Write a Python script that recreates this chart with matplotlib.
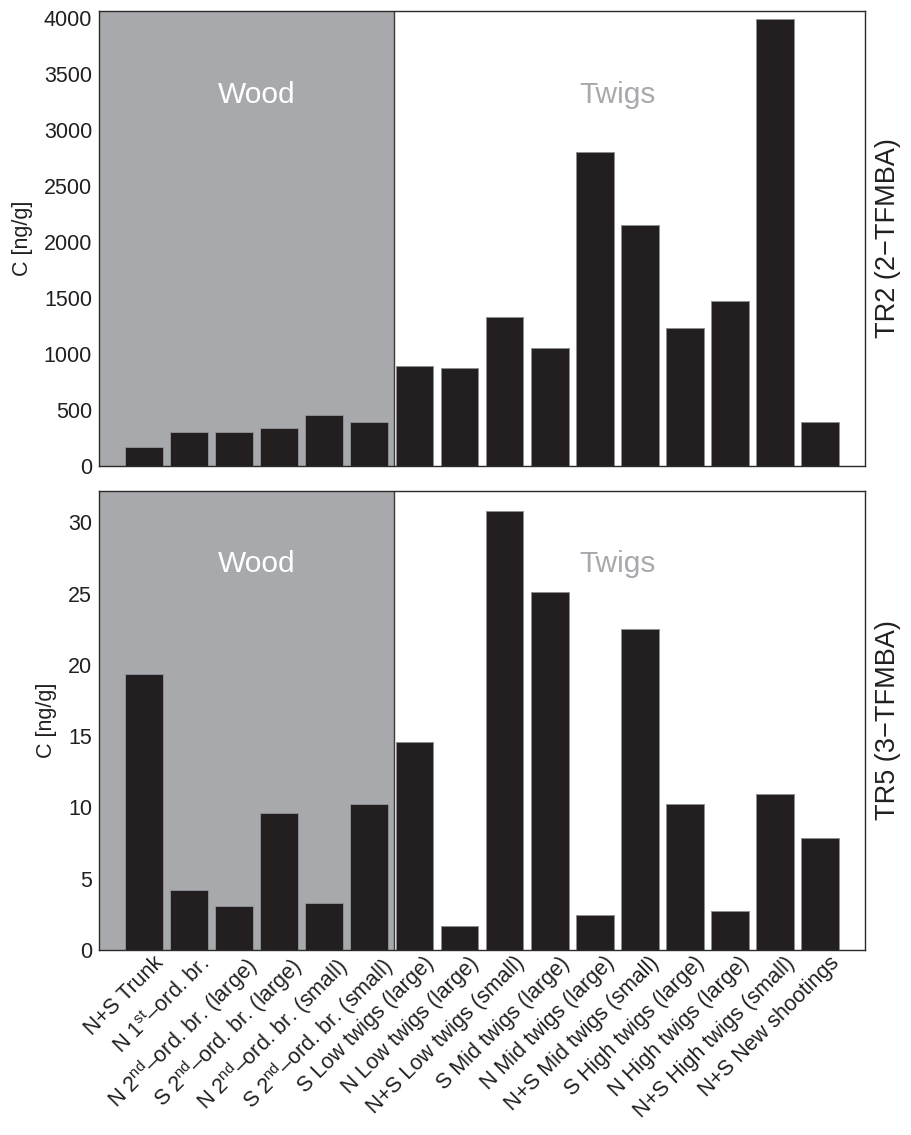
import matplotlib
matplotlib.use("Agg")
import matplotlib.pyplot as plt
import matplotlib.transforms as mtransforms

plt.rcParams['font.family'] = ['Liberation Sans', 'DejaVu Sans']
plt.rcParams['mathtext.fontset'] = 'custom'
plt.rcParams['mathtext.rm'] = 'Liberation Sans'
plt.rcParams['mathtext.it'] = 'Liberation Sans'
plt.rcParams['mathtext.default'] = 'regular'

# sample categories (x axis)
categories = [
    "N+S Trunk",
    "N 1$^{st}$–ord. br.",
    "N 2$^{nd}$–ord. br. (large)",
    "S 2$^{nd}$–ord. br. (large)",
    "N 2$^{nd}$–ord. br. (small)",
    "S 2$^{nd}$–ord. br. (small)",
    "S Low twigs (large)",
    "N Low twigs (large)",
    "N+S Low twigs (small)",
    "S Mid twigs (large)",
    "N Mid twigs (large)",
    "N+S Mid twigs (small)",
    "S High twigs (large)",
    "N High twigs (large)",
    "N+S High twigs (small)",
    "N+S New shootings",
]
n_wood = 6

# concentrations, ng/g
tr2_values = [173, 307, 300, 342, 455, 393, 890, 878, 1328, 1051,
              2804, 2152, 1235, 1476, 3991, 396]
tr5_values = [19.36, 4.2, 3.12, 9.61, 3.33, 10.21, 14.62, 1.65, 30.8, 25.1,
              2.47, 22.53, 10.21, 2.75, 10.94, 7.88]

panel_titles = ["TR2 (2−TFMBA)", "TR5 (3−TFMBA)"]
panel_ylims = [(0, 4060), (0, 32.2)]
panel_yticks = [range(0, 4001, 500), range(0, 31, 5)]
group_label_y = [3310, 27.1]

bar_col = '#231f20'
wood_col = '#a7a9ac'
txt_col = '#231f20'

fig = plt.figure(figsize=(9.12, 11.35), dpi=100)
ax_top = fig.add_axes([0.1086, 0.5894, 0.8399, 0.4009])
ax_bot = fig.add_axes([0.1086, 0.1630, 0.8399, 0.4044])

x = list(range(len(categories)))
split = n_wood - 0.45

for ax, vals, title, ylim, yt, ly in zip([ax_top, ax_bot],
                                         [tr2_values, tr5_values],
                                         panel_titles, panel_ylims,
                                         panel_yticks, group_label_y):
    ax.axvspan(-1, split, color=wood_col, lw=0, zorder=0)
    ax.axvline(split, color='#3a3a3a', lw=1.0, zorder=1)
    ax.bar(x, vals, width=0.84, color=bar_col, edgecolor='#8d8f92',
           linewidth=0.7, zorder=2)
    ax.set_xlim(-1, len(categories))
    ax.set_ylim(*ylim)
    ax.set_yticks(list(yt))
    ax.tick_params(axis='y', length=0, labelsize=15.5, pad=5,
                   labelcolor=txt_col)
    ax.set_ylabel("C [ng/g]", fontsize=15.5, color=txt_col, labelpad=8)
    for s in ax.spines.values():
        s.set_color('#2a2a2a')
        s.set_linewidth(1.0)
    ax.text(2.5, ly, "Wood", color='white', fontsize=21.5,
            ha='center', va='center')
    ax.text(10.5, ly, "Twigs", color=wood_col, fontsize=21.5,
            ha='center', va='center')
    ax.text(1.03, 0.5, title, transform=ax.transAxes, rotation=90,
            fontsize=19.5, ha='center', va='center', color=txt_col)

ax_top.set_xticks([])
ax_bot.set_xticks(x)
ax_bot.set_xticklabels(categories, rotation=45, ha='right',
                       rotation_mode='anchor', fontsize=15.5,
                       color=txt_col)
ax_bot.tick_params(axis='x', length=0, pad=2)
offset = mtransforms.ScaledTranslation(0.09, 0.0, fig.dpi_scale_trans)
for lab in ax_bot.get_xticklabels():
    lab.set_transform(lab.get_transform() + offset)

fig.savefig("out.png", dpi=100)
